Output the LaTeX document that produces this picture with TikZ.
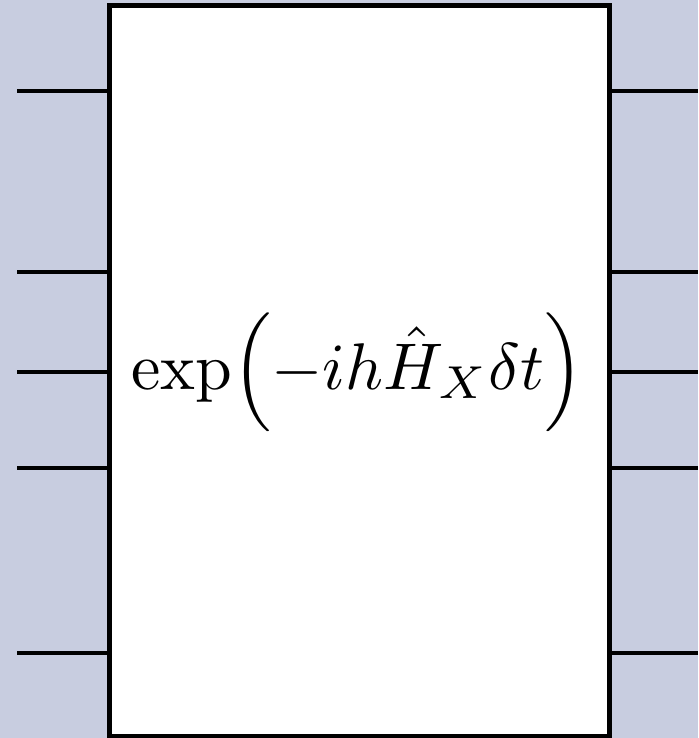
\documentclass[tikz,border=0pt]{standalone}
\usepackage{amsmath}
\usetikzlibrary{calc}
\definecolor{circuitBg}{HTML}{C8CDE0}
\tikzset{
  wire/.style={draw=black,line width=4pt},
  gatebox/.style={rectangle,draw=black,line width=5pt,fill=white,
    minimum width=500pt,minimum height=730pt,inner sep=0pt},
  gatelabel/.style={scale=6.6,inner sep=0pt},
}

\begin{document}
\begin{tikzpicture}[x=1pt,y=-1pt]

\fill[circuitBg] (0,0) rectangle (698,738);
\useasboundingbox (0,0) rectangle (698,738);

\node[gatebox] (expH) at (359.5,371) {};
\node[gatelabel] (expHlabel) at (357.5,372.5) {$\exp\Bigl(-ih\hat{H}_X\delta t\Bigr)$};

\foreach \y [count=\i] in {91,272,372,468,653}{
  \coordinate (in\i)  at (17,\y);
  \coordinate (out\i) at (698,\y);
  \draw[wire] (in\i) -- (in\i -| expH.west);
  \draw[wire] (expH.east |- out\i) -- (out\i);
}

\end{tikzpicture}
\end{document}
